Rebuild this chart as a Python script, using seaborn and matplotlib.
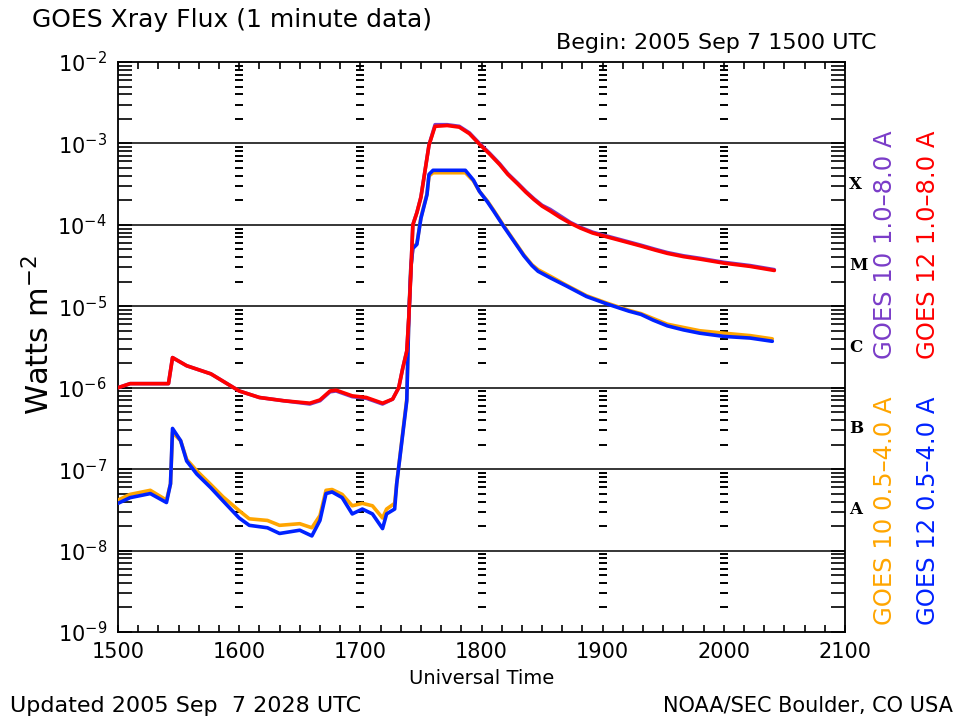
import numpy as np
import pandas as pd
import matplotlib
matplotlib.use("Agg")
import matplotlib.pyplot as plt
import matplotlib.transforms as mtransforms
from matplotlib.ticker import FixedLocator, NullFormatter
import seaborn as sns

# ---------------- data (minutes after 1500 UT, log10 flux in W m^-2) ----------------
t_g12_long = [0, 6, 25, 27, 34, 46, 54, 60, 70, 82, 95, 100, 105, 108, 116, 123, 131, 136,
              139, 141, 143, 144, 145, 146, 148, 150, 152, 154, 157, 163, 169, 174, 179, 184,
              189, 193, 198, 202, 206, 210, 214, 219, 224, 229, 235, 241, 247, 253, 259, 266,
              272, 280, 288, 300, 313, 325]
g12_long_log = [-6.00, -5.95, -5.95, -5.63, -5.73, -5.83, -5.95, -6.04, -6.12, -6.16, -6.19,
                -6.15, -6.04, -6.03, -6.10, -6.12, -6.19, -6.14, -6.00, -5.76, -5.55, -5.14,
                -4.60, -4.00, -3.85, -3.66, -3.34, -3.02, -2.79, -2.78, -2.80, -2.88, -3.01,
                -3.13, -3.26, -3.38, -3.50, -3.60, -3.69, -3.77, -3.83, -3.91, -3.98, -4.04,
                -4.10, -4.14, -4.18, -4.22, -4.26, -4.31, -4.35, -4.39, -4.42, -4.47, -4.51,
                -4.56]

t_g10_long = t_g12_long
g10_long_log = [-6.00, -5.95, -5.95, -5.63, -5.73, -5.83, -5.95, -6.04, -6.12, -6.16, -6.20,
                -6.16, -6.05, -6.04, -6.11, -6.13, -6.20, -6.14, -6.00, -5.76, -5.55, -5.14,
                -4.60, -4.00, -3.85, -3.66, -3.34, -3.02, -2.77, -2.77, -2.79, -2.87, -3.00,
                -3.12, -3.25, -3.37, -3.49, -3.59, -3.68, -3.76, -3.81, -3.89, -3.97, -4.03,
                -4.09, -4.13, -4.17, -4.21, -4.25, -4.30, -4.34, -4.38, -4.41, -4.46, -4.50,
                -4.55]

t_g12_short = [0, 6, 16, 24, 26, 27, 31, 34, 39, 46, 52, 60, 65, 74, 80, 90, 96, 100, 103,
               106, 111, 116, 121, 126, 131, 133, 137, 138, 141, 143, 144, 145, 146, 148, 150,
               153, 154, 156, 172, 176, 179, 183, 186, 191, 196, 201, 205, 208, 214, 222, 232,
               242, 253, 259, 265, 272, 280, 288, 300, 313, 324]
g12_short_log = [-7.42, -7.35, -7.30, -7.41, -7.18, -6.50, -6.65, -6.90, -7.06, -7.23, -7.39,
                 -7.60, -7.69, -7.72, -7.79, -7.75, -7.82, -7.63, -7.30, -7.28, -7.35, -7.55,
                 -7.49, -7.55, -7.73, -7.55, -7.49, -7.18, -6.57, -6.16, -5.14, -4.53, -4.29,
                 -4.24, -3.92, -3.63, -3.38, -3.33, -3.33, -3.45, -3.59, -3.72, -3.83, -4.02,
                 -4.20, -4.38, -4.50, -4.57, -4.65, -4.75, -4.88, -4.97, -5.06, -5.10, -5.17,
                 -5.24, -5.29, -5.33, -5.37, -5.39, -5.43]

t_g10_short = t_g12_short
g10_short_log = [-7.38, -7.31, -7.26, -7.38, -7.18, -6.55, -6.65, -6.88, -7.02, -7.19, -7.34,
                 -7.51, -7.61, -7.63, -7.69, -7.67, -7.72, -7.57, -7.26, -7.25, -7.31, -7.45,
                 -7.42, -7.45, -7.60, -7.49, -7.42, -7.18, -6.55, -6.14, -5.12, -4.52, -4.28,
                 -4.23, -3.91, -3.62, -3.40, -3.36, -3.36, -3.46, -3.59, -3.71, -3.82, -4.01,
                 -4.19, -4.37, -4.49, -4.55, -4.63, -4.74, -4.87, -4.96, -5.05, -5.09, -5.15,
                 -5.22, -5.26, -5.30, -5.33, -5.36, -5.40]

hour_ticks = [15, 16, 17, 18, 19, 20, 21]
hour_labels = ["1500", "1600", "1700", "1800", "1900", "2000", "2100"]
decades = [-9, -8, -7, -6, -5, -4, -3, -2]
grid_decades = [-8, -7, -6, -5, -4, -3]
flare_classes = ["X", "M", "C", "B", "A"]
class_levels = [-3.5, -4.5, -5.5, -6.5, -7.5]

series = [
    ("GOES 10 0.5\u20134.0 A", t_g10_short, g10_short_log, "#FFA500"),
    ("GOES 12 0.5\u20134.0 A", t_g12_short, g12_short_log, "#0022FF"),
    ("GOES 10 1.0\u20138.0 A", t_g10_long, g10_long_log, "#7A3CC8"),
    ("GOES 12 1.0\u20138.0 A", t_g12_long, g12_long_log, "#FF0000"),
]

# ---------------- figure ----------------
sns.set_style("ticks")
plt.rcParams["font.family"] = ["DejaVu Sans"]
plt.rcParams["mathtext.default"] = "regular"
for k in ["text.color", "axes.labelcolor", "xtick.color", "ytick.color"]:
    plt.rcParams[k] = "black"

fig = plt.figure(figsize=(9.67, 7.21), dpi=100)
ax = fig.add_axes([118 / 967, 1 - 632 / 721, (845 - 118) / 967, (632 - 62) / 721])
ax.set_yscale("log")
ax.set_xlim(15, 21)
ax.set_ylim(1e-9, 1e-2)

# horizontal decade lines
for d in grid_decades:
    ax.axhline(10.0 ** d, color="black", lw=1.1, zorder=1)

# dash columns at each inner hour
minor_vals = [m * 10.0 ** d for d in decades[:-1] for m in range(2, 10)]
for h in hour_ticks[1:-1]:
    ax.plot([h] * len(minor_vals), minor_vals, linestyle="none", marker="_",
            markersize=5.5, markeredgewidth=1.4, color="black", zorder=1)

for name, t, lg, col in series:
    df = pd.DataFrame({"hour": 15 + np.array(t) / 60.0, "flux": 10.0 ** np.array(lg)})
    sns.lineplot(data=df, x="hour", y="flux", color=col, linewidth=2.6,
                 estimator=None, sort=False, ax=ax, zorder=3)

# axes styling
for s in ax.spines.values():
    s.set_linewidth(1.3)
    s.set_color("black")
ax.set_xticks(hour_ticks)
ax.set_xticklabels(hour_labels, fontsize=15)
ax.xaxis.set_minor_locator(FixedLocator([15 + i / 6 for i in range(37)]))
ax.set_yticks([10.0 ** d for d in decades])
ax.set_yticklabels([r"$10^{%d}$" % d for d in decades], fontsize=15)
ax.yaxis.set_minor_locator(FixedLocator(minor_vals))
ax.yaxis.set_minor_formatter(NullFormatter())
ax.tick_params(axis="x", which="both", direction="in", top=True, bottom=True,
               length=5, width=1.2, pad=7)
ax.tick_params(axis="y", which="both", direction="in", left=True, right=True,
               length=10, width=1.2, pad=8)

ax.set_xlabel("Universal Time", fontsize=14, labelpad=5)
ax.set_ylabel(r"Watts m$^{-2}$", fontsize=22)
ax.yaxis.set_label_coords(-0.086, 0.52)

# flare class letters
trans = mtransforms.blended_transform_factory(ax.transAxes, ax.transData)
for c, lv in zip(flare_classes, class_levels):
    ax.text(1.006, 10.0 ** lv, c, transform=trans, ha="left", va="center",
            fontsize=12, fontweight="bold", family="DejaVu Serif")

# right side legend texts
legend_pos = [(885, 511), (928, 511), (885, 245), (928, 245)]
for (name, t, lg, col), (px, py) in zip(series, legend_pos):
    fig.text(px / 967, 1 - py / 721, name, color=col, rotation=90,
             ha="center", va="center", fontsize=17.5)

fig.text(32 / 967, 1 - 20 / 721, "GOES Xray Flux (1 minute data)", fontsize=18,
         ha="left", va="center")
fig.text(877 / 967, 1 - 43 / 721, "Begin: 2005 Sep 7 1500 UTC", fontsize=16,
         ha="right", va="center")
fig.text(10 / 967, 1 - 706 / 721, "Updated 2005 Sep  7 2028 UTC", fontsize=16,
         ha="left", va="center")
fig.text(953 / 967, 1 - 706 / 721, "NOAA/SEC Boulder, CO USA", fontsize=15,
         ha="right", va="center")

fig.savefig("out.png", dpi=100, facecolor="white")
